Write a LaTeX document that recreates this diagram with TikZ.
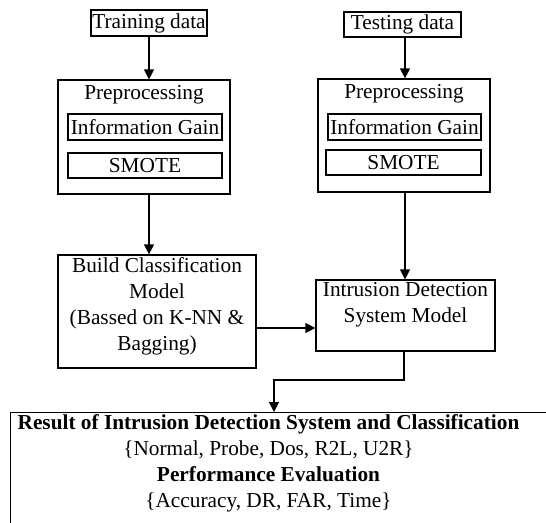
\documentclass[tikz,border=0pt]{standalone}
\usepackage{fontspec}
\setmainfont{Liberation Serif}
\usetikzlibrary{arrows.meta}
\begin{document}
\begin{tikzpicture}[x=1pt,y=-1pt,
  box/.style={draw,line width=1.2pt,inner sep=0pt},
  lbl/.style={inner sep=0pt,align=center,font=\fontsize{21.3}{26}\selectfont},
  arr/.style={line width=1.2pt,-{Triangle[length=10pt,width=10pt]}},
  ln/.style={line width=1.2pt}]
\useasboundingbox (0,0) rectangle (546,522);
\clip (0,0) rectangle (546,522);
% top data boxes
\node[box,minimum width=116,minimum height=26] (train) at (149,23) {};
\node[lbl] (traint) at (149,23) {Training data};
\node[box,minimum width=117,minimum height=25] (test) at (402.5,24.5) {};
\node[lbl] (testt) at (402.5,24.5) {Testing data};
% left preprocessing
\node[box,minimum width=172,minimum height=114] (preL) at (144,137) {};
\node[lbl] (preLt) at (144,95) {Preprocessing};
\node[box,minimum width=154,minimum height=26] (igL) at (145,127) {};
\node[lbl] (igLt) at (145,127) {Information Gain};
\node[box,minimum width=154,minimum height=25] (smL) at (145,165.5) {};
\node[lbl] (smLt) at (145,165.5) {SMOTE};
% right preprocessing
\node[box,minimum width=172,minimum height=113] (preR) at (404,135.5) {};
\node[lbl] (preRt) at (404,94) {Preprocessing};
\node[box,minimum width=153,minimum height=26] (igR) at (404.5,127) {};
\node[lbl] (igRt) at (404.5,127) {Information Gain};
\node[box,minimum width=155,minimum height=25] (smR) at (403.5,162.5) {};
\node[lbl] (smRt) at (403.5,162.5) {SMOTE};
% build model
\node[box,minimum width=198,minimum height=113] (build) at (157,311.5) {};
\node[lbl] (buildt) at (157,306.5) {Build Classification\\Model\\(Bassed on K-NN \&\\Bagging)};
% IDS model
\node[box,minimum width=179,minimum height=71] (ids) at (405.5,315.5) {};
\node[lbl] (idst) at (405.5,305) {Intrusion Detection\\System Model};
% result
\node[box,anchor=north west,minimum width=560,minimum height=160] (result) at (10,412) {};
\node[lbl] (resultt) at (268.5,463.5) {\textbf{Result of Intrusion Detection System and Classification}\\\{Normal, Probe, Dos, R2L, U2R\}\\\textbf{Performance Evaluation}\\\{Accuracy, DR, FAR, Time\}};
% connectors
\coordinate (tl) at (149,0);
\coordinate (tr) at (405,0);
\draw[arr] (tl |- train.south) -- (tl |- preL.north);
\draw[arr] (tl |- preL.south) -- (tl |- build.north);
\draw[arr] (tr |- test.south) -- (tr |- preR.north);
\draw[arr] (tr |- preR.south) -- (tr |- ids.north);
\coordinate (hy) at (0,328);
\draw[arr] (build.east |- hy) -- (ids.west |- hy);
\coordinate (bend) at (274,380);
\draw[arr] (ids.south -| 404,0) -- (404,380) -- (bend) -- (bend |- result.north);
\end{tikzpicture}
\end{document}
